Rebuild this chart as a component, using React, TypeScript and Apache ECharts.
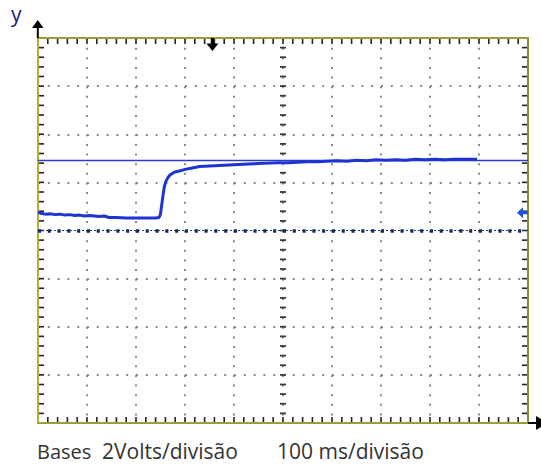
import React, { useEffect, useRef } from "react";
import * as echarts from "echarts";

// Screen in divisions: 10 horizontal x 8 vertical (center = 0)
const X_DIVS = [0, 10];
const Y_DIVS = [-4, 4];
const MINOR_PER_DIV = 5;

// Reference level (thin horizontal line), in divisions
const refLevel = 1.455;
const refX = [0, 10];

// Measured trace (time in divisions, voltage in divisions)
const traceX = [
  0, 0.05, 0.15, 0.25, 0.35, 0.45, 0.55, 0.65, 0.75, 0.85, 0.95, 1.05, 1.15, 1.25, 1.35,
  1.45, 1.6, 1.8, 2.0, 2.2, 2.4, 2.47, 2.5, 2.52, 2.55, 2.58, 2.61, 2.65, 2.7, 2.78,
  2.9, 3.0, 3.15, 3.3, 3.5, 3.7, 3.9, 4.1, 4.3, 4.5, 4.7, 4.9, 5.1, 5.3, 5.5, 5.7,
  5.9, 6.1, 6.3, 6.5, 6.7, 6.9, 7.1, 7.3, 7.5, 7.7, 7.9, 8.1, 8.3, 8.5, 8.7, 8.96,
];
const traceY = [
  0.38, 0.36, 0.34, 0.35, 0.33, 0.34, 0.32, 0.33, 0.31, 0.32, 0.3, 0.31, 0.3, 0.29, 0.3,
  0.27, 0.27, 0.26, 0.26, 0.26, 0.26, 0.27, 0.34, 0.5, 0.72, 0.92, 1.02, 1.1, 1.16, 1.21,
  1.24, 1.27, 1.3, 1.33, 1.34, 1.35, 1.36, 1.37, 1.38, 1.39, 1.4, 1.41, 1.41, 1.42, 1.43, 1.43,
  1.44, 1.45, 1.44, 1.46, 1.45, 1.47, 1.46, 1.47, 1.46, 1.48, 1.47, 1.48, 1.47, 1.48, 1.48, 1.48,
];

// Trigger markers (divisions)
const triggerTime = 3.56;
const triggerLevel = 0.37;

const bottomTexts = ["Bases", "2Volts/divisão", "100 ms/divisão"];

const BORDER = "#9c9c3a";
const TICK = "#222222";
const DOT = "#8a8a8a";
const TRACE = "#1f33d0";

export default function App() {
  const ref = useRef<HTMLDivElement>(null);
  useEffect(() => {
    if (!ref.current) return;
    const chart = echarts.init(ref.current, null, { renderer: "svg" });

    const axisBase = {
      type: "value",
      axisTick: { show: false },
      axisLabel: { show: false },
    };

    // graticule ticks: fine marks on the bezel and on the centre vertical axis
    const renderTicks = (_params: any, api: any) => {
      const children: any[] = [];
      const mark = (x: number, y: number, width: number, height: number, fill = TICK) => {
        children.push({
          type: "rect",
          shape: { x, y, width, height },
          style: { fill },
        });
      };
      const nx = (X_DIVS[1] - X_DIVS[0]) * MINOR_PER_DIV;
      for (let i = 1; i < nx; i++) {
        const v = X_DIVS[0] + i / MINOR_PER_DIV;
        const b = api.coord([v, Y_DIVS[0]]);
        const t = api.coord([v, Y_DIVS[1]]);
        mark(b[0] - 0.8, b[1] - 6, 1.6, 5);
        mark(t[0] - 0.8, t[1] + 1, 1.6, 5);
      }
      const ny = (Y_DIVS[1] - Y_DIVS[0]) * MINOR_PER_DIV;
      const xc = (X_DIVS[0] + X_DIVS[1]) / 2;
      for (let i = 1; i < ny; i++) {
        const v = Y_DIVS[0] + i / MINOR_PER_DIV;
        const l = api.coord([X_DIVS[0], v]);
        const r = api.coord([X_DIVS[1], v]);
        const c = api.coord([xc, v]);
        mark(l[0] + 1, l[1] - 0.8, 5, 1.6);
        mark(r[0] - 6, r[1] - 0.8, 5, 1.6);
        mark(c[0] - 3, c[1] - 0.9, 6, 1.8, "#3a3a3a");
      }
      return { type: "group", children };
    };

    const option: any = {
      animation: false,
      backgroundColor: "#ffffff",
      grid: { left: 38, top: 38, right: 13, bottom: 43, containLabel: false },
      xAxis: [
        {
          ...axisBase,
          min: X_DIVS[0],
          max: X_DIVS[1],
          interval: 1,
          position: "bottom",
          axisLine: { show: true, onZero: false, lineStyle: { color: BORDER, width: 2 } },
          splitLine: { show: true, lineStyle: { color: DOT, width: 2, type: [2, 7.625] } },
        },
        {
          ...axisBase,
          min: X_DIVS[0],
          max: X_DIVS[1],
          interval: 1,
          position: "top",
          axisLine: { show: true, onZero: false, lineStyle: { color: BORDER, width: 2 } },
          splitLine: { show: false },
        },
      ],
      yAxis: [
        {
          ...axisBase,
          min: Y_DIVS[0],
          max: Y_DIVS[1],
          interval: 1,
          position: "left",
          axisLine: { show: true, onZero: false, lineStyle: { color: "#b0b034", width: 2 } },
          splitLine: { show: true, lineStyle: { color: DOT, width: 2, type: [2, 7.8] } },
        },
        {
          ...axisBase,
          min: Y_DIVS[0],
          max: Y_DIVS[1],
          interval: 1,
          position: "right",
          axisLine: { show: true, onZero: false, lineStyle: { color: "#8a8a30", width: 2 } },
          splitLine: { show: false },
        },
      ],
      series: [
        {
          name: "graticule",
          type: "custom",
          xAxisIndex: 0,
          yAxisIndex: 0,
          data: [[5, 0]],
          renderItem: renderTicks,
          silent: true,
          clip: false,
          z: 2,
        },
        {
          name: "reference",
          type: "line",
          data: refX.map((x) => [x, refLevel]),
          symbol: "none",
          lineStyle: { color: "#2a3ccc", width: 1.5 },
          silent: true,
          z: 3,
          markLine: {
            silent: true,
            symbol: "none",
            label: { show: false },
            data: [
              { yAxis: 0, lineStyle: { color: "#2a3470", width: 1, type: [2, 2] } },
              { yAxis: 0, lineStyle: { color: "#1c2660", width: 3.5, type: [3, 6.8] } },
            ],
          },
        },
        {
          name: "trace",
          type: "line",
          data: traceX.map((x, i) => [x, traceY[i]]),
          symbol: "none",
          lineStyle: { color: TRACE, width: 3 },
          silent: true,
          z: 4,
          markPoint: {
            silent: true,
            label: { show: false },
            data: [
              {
                coord: [triggerTime, Y_DIVS[1]],
                symbol: "path://M4,0 L7,0 L7,5 L11,5 L5.5,12 L0,5 L4,5 Z",
                symbolSize: [12, 13],
                symbolOffset: [0, "50%"],
                itemStyle: { color: "#000000" },
              },
              {
                coord: [X_DIVS[1], triggerLevel],
                symbol: "path://M0,5.5 L6,0 L6,4 L11,4 L11,7 L6,7 L6,11 Z",
                symbolSize: [11, 11],
                symbolOffset: ["-50%", 0],
                itemStyle: { color: "#2251e8" },
              },
            ],
          },
        },
      ],
      graphic: [
        // y axis arrow
        { type: "polygon", shape: { points: [[32, 28], [37.8, 20], [43.5, 28]] }, style: { fill: "#000" }, z: 10 },
        { type: "rect", shape: { x: 36.8, y: 27, width: 2, height: 11 }, style: { fill: "#000" }, z: 10 },
        // x axis arrow
        { type: "rect", shape: { x: 528, y: 422, width: 10, height: 2 }, style: { fill: "#000" }, z: 10 },
        { type: "polygon", shape: { points: [[536, 416], [548, 423], [536, 430]] }, style: { fill: "#000" }, z: 10 },
        {
          type: "text",
          left: 11,
          top: 3,
          style: { text: "y", fill: "#1c1c7a", font: "21px 'Open Sans', sans-serif" },
          z: 10,
        },
        {
          type: "text",
          x: 37,
          y: 451,
          style: {
            text: bottomTexts[0],
            fill: "#333333",
            font: "20px 'Open Sans', sans-serif",
            textVerticalAlign: "middle",
          },
        },
        {
          type: "text",
          x: 102,
          y: 451,
          style: {
            text: bottomTexts[1],
            fill: "#333333",
            font: "21px 'Open Sans', sans-serif",
            textVerticalAlign: "middle",
          },
        },
        {
          type: "text",
          x: 277,
          y: 451,
          style: {
            text: bottomTexts[2],
            fill: "#333333",
            font: "21px 'Open Sans', sans-serif",
            textVerticalAlign: "middle",
          },
        },
      ],
    };

    chart.setOption(option);
    return () => chart.dispose();
  }, []);

  return (
    <div
      ref={ref}
      style={{ position: "fixed", left: 0, top: 0, width: 541, height: 466, background: "#fff" }}
    />
  );
}
